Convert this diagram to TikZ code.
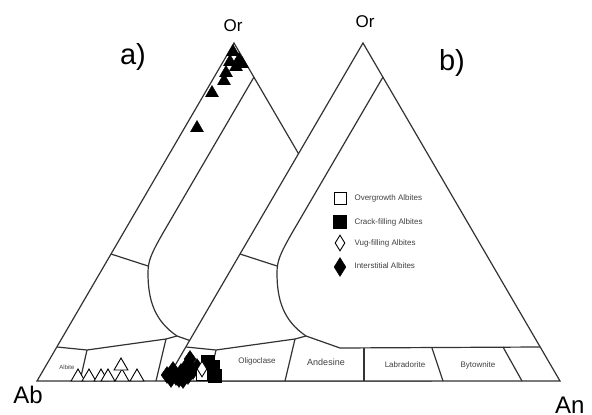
\documentclass[tikz,border=0pt]{standalone}
\usepackage{fontspec}
\setmainfont{Liberation Sans}
\usetikzlibrary{shapes.geometric}

\tikzset{
  fsline/.style={line width=1.2pt, draw=black!80},
  fieldlabel/.style={font=\fontsize{8}{9}\selectfont, text=black!75},
  legendlabel/.style={font=\fontsize{8}{9}\selectfont, text=black!75, anchor=west},
  filltri/.style={regular polygon, regular polygon sides=3, fill=black, draw=black, inner sep=0pt, minimum size=15pt},
  opentri/.style={regular polygon, regular polygon sides=3, fill=white, draw=black, line width=0.9pt, inner sep=0pt, minimum size=16pt},
  opensq/.style={rectangle, fill=white, draw=black, line width=0.9pt, inner sep=0pt, minimum size=11pt},
  fillsq/.style={rectangle, fill=black, draw=black, inner sep=0pt, minimum size=13pt},
  opendia/.style={diamond, fill=white, draw=black, line width=0.9pt, inner sep=0pt, minimum width=10pt, minimum height=16pt},
  filldia/.style={diamond, fill=black, draw=black, inner sep=0pt, minimum width=12pt, minimum height=17pt}
}

% one feldspar triangle, Ab corner at the origin
\newcommand{\fspfield}{%
  \draw[fsline, fill=white] (0,0) -- (197,-338) -- (394,0) -- cycle;
  \draw[fsline] (217,-304) -- (126,-148) .. controls (114,-127) and (111,-120) .. (111,-108)
    .. controls (111,-80) and (118,-60) .. (140,-45);
  \draw[fsline] (74,-127) -- (111,-115);
  \draw[fsline] (20,-34) -- (50,-31) -- (129,-42) -- (140,-45) -- (174,-33) -- (374,-34);
  \draw[fsline] (50,-31) -- (43,0);
  \draw[fsline] (129,-42) -- (119,0);
  \draw[fsline] (198,-33) -- (198,0);
  \draw[fsline] (266,-33) -- (277,0);
  \draw[fsline] (337,-34) -- (356,0);
}

\begin{document}
\begin{tikzpicture}[x=1pt,y=-1pt]
\useasboundingbox (0,0) rectangle (592,415);

% a)
\begin{scope}[shift={(37,381)}]
\fspfield
\node[fieldlabel, font=\fontsize{6}{7}\selectfont] (albA) at (30,-14) {Albite};
\end{scope}
\foreach \x/\y [count=\i] in {78/377,89/377,101/377,108/377,122/377,137/377,121/366}
  \node[opentri] (ot\i) at (\x,\y) {};
\foreach \x/\y [count=\i] in {233/52,239/60,242/64,230/62,236/67,226/73,224/81,212/93,197/128}
  \node[filltri] (ft\i) at (\x,\y) {};

% b)
\begin{scope}[shift={(166,381)}]
\fspfield
\node[fieldlabel] (olig) at (91,-20) {Oligoclase};
\node[fieldlabel, font=\fontsize{9}{10}\selectfont] (ande) at (160,-19) {Andesine};
\node[fieldlabel] (labr) at (239,-16) {Labradorite};
\node[fieldlabel] (byto) at (312,-16) {Bytownite};
\end{scope}
\foreach \x/\y [count=\i] in {167/375,173/370,171/379,176/377,181/372,179/379,185/368,188/376,193/371,197/367,190/359,183/380}
  \node[filldia] (fd\i) at (\x,\y) {};
\foreach \x/\y [count=\i] in {208/362,213/367,211/374,215/376}
  \node[fillsq] (fs\i) at (\x,\y) {};
\node[opensq] (os1) at (202,375) {};
\node[opendia] (od1) at (202,369) {};

% legend
\node[opensq, minimum size=12pt] (lgos) at (340,198) {};
\node[legendlabel] (lgtos) at (351,198) {Overgrowth Albites};
\node[fillsq] (lgfs) at (340,222) {};
\node[legendlabel] (lgtfs) at (351,222) {Crack-filling Albites};
\node[opendia] (lgod) at (340,243) {};
\node[legendlabel] (lgtod) at (351,243) {Vug-filling Albites};
\node[filldia, minimum height=19pt] (lgfd) at (340,267) {};
\node[legendlabel] (lgtfd) at (351,266) {Interstitial Albites};

% corner labels
\node[font=\fontsize{17}{20}\selectfont] (orA) at (233,26) {Or};
\node[font=\fontsize{17}{20}\selectfont] (orB) at (365,22) {Or};
\node[font=\fontsize{24}{28}\selectfont] (ab) at (28,395) {Ab};
\node[font=\fontsize{24}{28}\selectfont, anchor=west, inner sep=0pt] (an) at (555,405) {An};
\node[font=\fontsize{29}{34}\selectfont] (labA) at (133,57) {a)};
\node[font=\fontsize{29}{34}\selectfont] (labB) at (452,63) {b)};
\end{tikzpicture}
\end{document}
